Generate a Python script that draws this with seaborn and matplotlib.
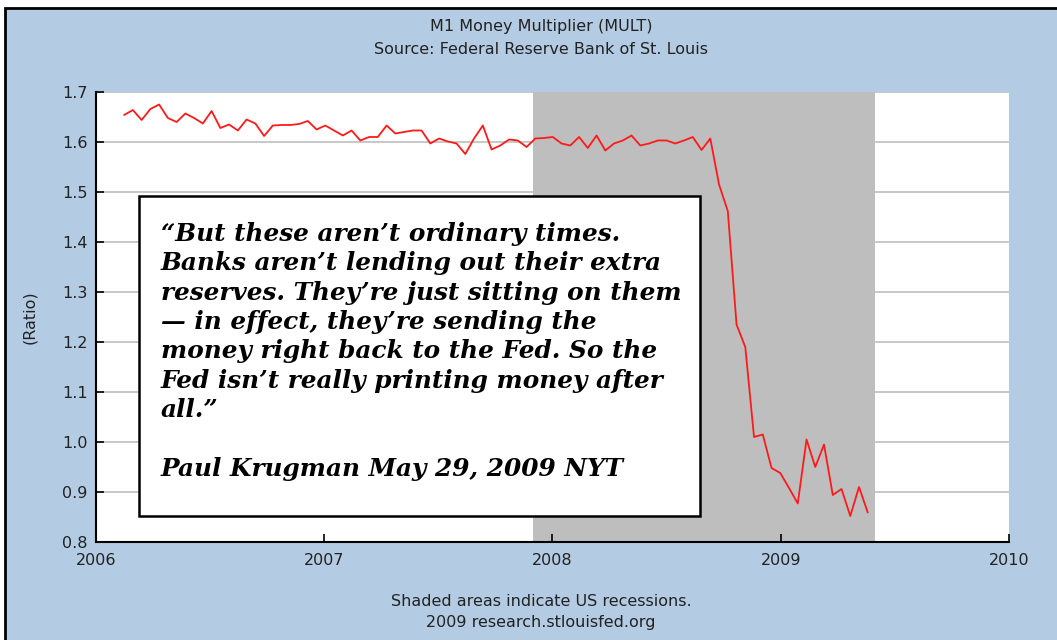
import pandas as pd
import matplotlib.pyplot as plt
import matplotlib.dates as mdates
from matplotlib.patches import Rectangle
import seaborn as sns

start_date = '2006-02-15'
mult_2006 = [1.654, 1.664, 1.644, 1.666, 1.675, 1.648, 1.640, 1.657, 1.648, 1.637,
             1.662, 1.628, 1.635, 1.623, 1.645, 1.637, 1.612, 1.633, 1.634, 1.634,
             1.636, 1.642, 1.625]
mult_2007 = [1.633, 1.623, 1.613, 1.623, 1.603, 1.610, 1.610, 1.633, 1.617, 1.620,
             1.623, 1.623, 1.597, 1.607, 1.601, 1.597, 1.576, 1.607, 1.633, 1.585,
             1.593, 1.605, 1.603, 1.590, 1.607, 1.608]
mult_2008 = [1.610, 1.597, 1.593, 1.610, 1.588, 1.613, 1.583, 1.597, 1.603, 1.613,
             1.593, 1.597, 1.603, 1.603, 1.597, 1.603, 1.610, 1.584, 1.607, 1.515,
             1.462, 1.235, 1.190, 1.010, 1.015, 0.948, 0.938]
mult_2009 = [0.908, 0.877, 1.005, 0.950, 0.995, 0.894, 0.906, 0.852, 0.910, 0.859]
values = mult_2006 + mult_2007 + mult_2008 + mult_2009

recession = ('2007-12-01', '2009-06-01')
year_ticks = ['2006', '2007', '2008', '2009', '2010']
y_ticks = [0.8, 0.9, 1.0, 1.1, 1.2, 1.3, 1.4, 1.5, 1.6, 1.7]

quote = ("\u201cBut these aren\u2019t ordinary times.\n"
         "Banks aren\u2019t lending out their extra\n"
         "reserves. They\u2019re just sitting on them\n"
         "\u2014 in effect, they\u2019re sending the\n"
         "money right back to the Fed. So the\n"
         "Fed isn\u2019t really printing money after\n"
         "all.\u201d\n\n"
         "Paul Krugman May 29, 2009 NYT")

df = pd.DataFrame({
    'date': pd.date_range(start_date, periods=len(values), freq='14D'),
    'mult': values,
})

sns.set_style('white')
plt.rcParams['font.family'] = ['DejaVu Sans']

bg = '#b3cce4'
fig = plt.figure(figsize=(10.57, 6.4), dpi=100)
fig.patch.set_facecolor('white')
frame = Rectangle((4.5 / 1057, -0.05), 1.1, 1 - 7.5 / 640 + 0.05,
                  transform=fig.transFigure, facecolor=bg,
                  edgecolor='black', linewidth=2, zorder=-10)
fig.patches.append(frame)

ax = fig.add_axes([96 / 1057, 1 - 542 / 640, 913 / 1057, 450 / 640])
ax.set_facecolor('white')

# horizontal grid under the recession shading, ticks above it
for v in y_ticks[1:]:
    ax.axhline(v, color='#c8c8c8', linewidth=1.4, zorder=0.2)
ax.axvspan(pd.Timestamp(recession[0]), pd.Timestamp(recession[1]),
           color='#bebebe', lw=0, zorder=1)
sns.lineplot(data=df, x='date', y='mult', color='#ff1a1a', linewidth=1.3,
             ax=ax, zorder=3)

ax.set_xlim(pd.Timestamp(year_ticks[0]), pd.Timestamp(year_ticks[-1]))
ax.set_ylim(0.8, 1.7)
ax.set_xticks([pd.Timestamp(y) for y in year_ticks])
ax.xaxis.set_major_formatter(mdates.DateFormatter('%Y'))
ax.set_yticks(y_ticks)
ax.set_yticklabels([f'{v:.1f}' for v in y_ticks])
ax.grid(False)
ax.set_axisbelow(False)
ax.tick_params(bottom=True, left=True, direction='in', length=6, width=1.2,
               color='black', labelsize=11.5, pad=6, labelcolor='#222222')
ax.tick_params(axis='x', pad=8)

for side in ['top', 'right']:
    ax.spines[side].set_visible(False)
for side in ['left', 'bottom']:
    ax.spines[side].set_color('black')
    ax.spines[side].set_linewidth(1.5)

ax.set_xlabel('')
ax.set_ylabel('(Ratio)', fontsize=11.5, color='#222222', labelpad=18)

# quote box
ax.add_patch(Rectangle((43 / 913, 26 / 450), 561 / 913, 320 / 450,
                       transform=ax.transAxes, facecolor='white',
                       edgecolor='black', linewidth=1.8, zorder=5))
ax.text(65 / 913, 1 - 130 / 450, quote, transform=ax.transAxes,
        family='DejaVu Serif', fontweight='bold', fontstyle='italic',
        fontsize=17.8, linespacing=1.28, va='top', ha='left', color='black',
        zorder=6)

cx = 541 / 1057
fig.text(cx, 1 - 27 / 640, 'M1 Money Multiplier (MULT)', ha='center',
         va='center', fontsize=11.5, color='#222222')
fig.text(cx, 1 - 49 / 640, 'Source: Federal Reserve Bank of St. Louis',
         ha='center', va='center', fontsize=11.5, color='#222222')
fig.text(cx, 1 - 601 / 640, 'Shaded areas indicate US recessions.',
         ha='center', va='center', fontsize=11.5, color='#222222')
fig.text(cx, 1 - 623 / 640, '2009 research.stlouisfed.org',
         ha='center', va='center', fontsize=11.5, color='#222222')

fig.savefig('out.png', dpi=100)
